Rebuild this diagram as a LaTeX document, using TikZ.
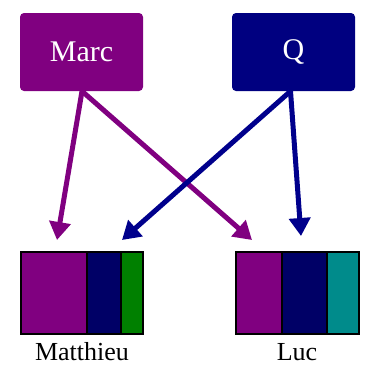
\documentclass[tikz,border=0pt]{standalone}
\usepackage{fontspec}
\setmainfont{Liberation Serif}
\usetikzlibrary{arrows.meta}
\definecolor{mpurple}{HTML}{800080}
\definecolor{mnavy}{HTML}{000080}
\definecolor{dnavy}{HTML}{000066}
\definecolor{anavy}{HTML}{00008C}
\definecolor{mgreen}{HTML}{008000}
\definecolor{mteal}{HTML}{008B8B}
\tikzset{
  srcbox/.style={rectangle, rounded corners=4pt, minimum width=123pt, minimum height=78pt,
    inner sep=0pt, text=white, font=\fontsize{30}{32}\selectfont},
  seg/.style={draw=black, line width=1.6pt},
  link/.style={line width=5pt, -{Triangle[length=18pt,width=21pt]}},
  lbl/.style={font=\fontsize{26}{28}\selectfont, text=black, inner sep=0pt}
}
\begin{document}
\begin{tikzpicture}[x=1pt,y=-1pt]
\useasboundingbox (0,0) rectangle (366,365);
% source boxes
\node[srcbox, fill=mpurple] (marc) at (81.5,52) {Marc};
\node[srcbox, fill=mnavy] (q) at (293.5,52) {Q};
% Matthieu
\fill[mpurple] (21,252) rectangle (87,334);
\fill[dnavy] (87,252) rectangle (121,334);
\fill[mgreen] (121,252) rectangle (143,334);
\draw[seg] (87,252) -- (87,334) (121,252) -- (121,334);
\node[seg, rectangle, minimum width=122pt, minimum height=82pt, inner sep=0pt] (mat) at (82,293) {};
% Luc
\fill[mpurple] (236,252) rectangle (282,334);
\fill[dnavy] (282,252) rectangle (327,334);
\fill[mteal] (327,252) rectangle (359,334);
\draw[seg] (282,252) -- (282,334) (327,252) -- (327,334);
\node[seg, rectangle, minimum width=123pt, minimum height=82pt, inner sep=0pt] (luc) at (297.5,293) {};
% labels
\node[lbl] (matl) at (82,352) {Matthieu};
\node[lbl] (lucl) at (297,352) {Luc};
% arrow tips
\coordinate (t1) at (57,240);
\coordinate (t2) at (252,240);
\coordinate (t3) at (122,240);
\coordinate (t4) at (301,236);
\draw[link, mpurple] ([xshift=0.5pt]marc.south) -- (t1);
\draw[link, mpurple] ([xshift=0.5pt]marc.south) -- (t2);
\draw[link, anavy] ([xshift=-3pt]q.south) -- (t3);
\draw[link, anavy] ([xshift=-3pt]q.south) -- (t4);
\end{tikzpicture}
\end{document}
